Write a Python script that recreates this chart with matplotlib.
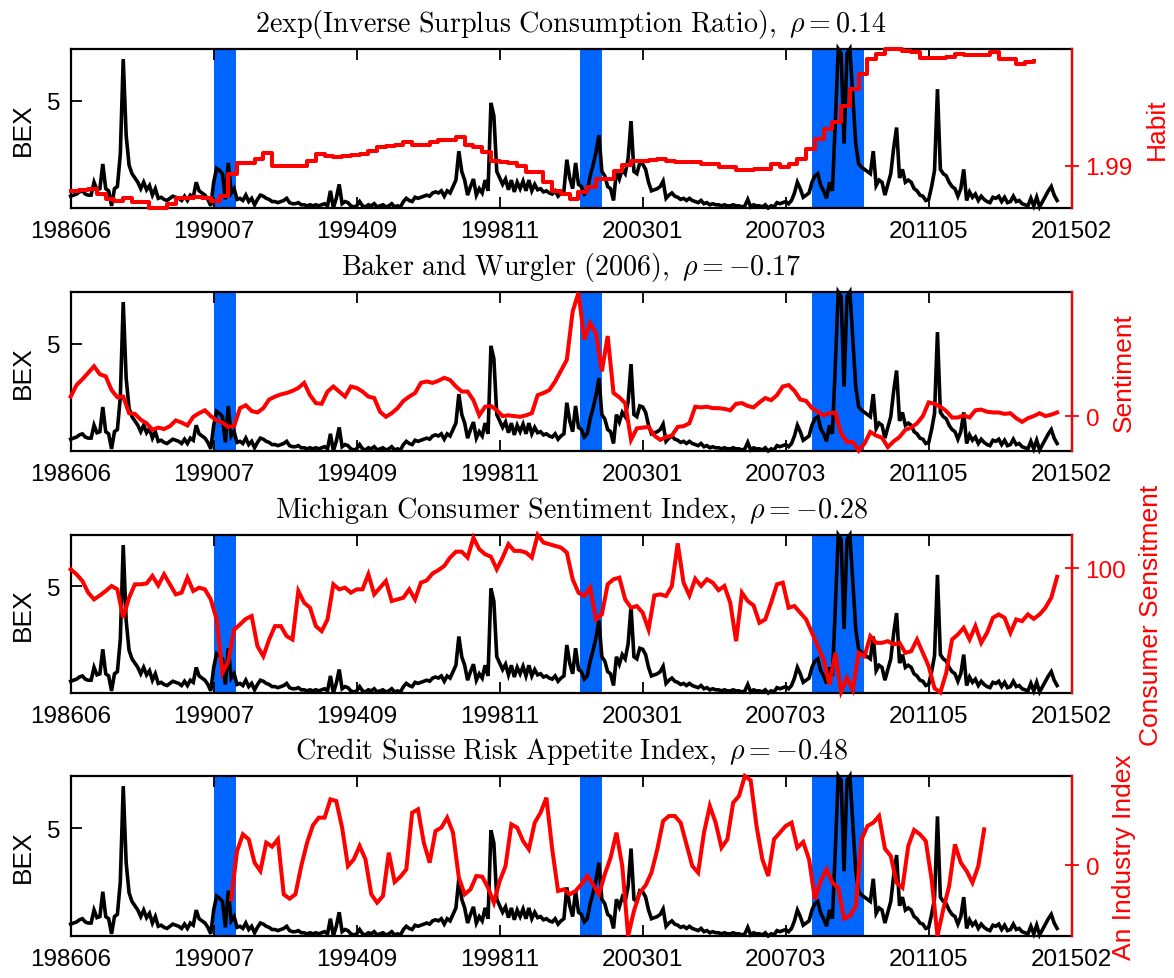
import numpy as np
import matplotlib.pyplot as plt

plt.rcParams['font.family'] = ['Liberation Sans', 'DejaVu Sans']
plt.rcParams['mathtext.fontset'] = 'cm'

# BEX, monthly index 0..338 (same series in every panel)
bex = [
    0.55, 0.6, 0.65, 0.75, 0.8, 0.65, 0.6, 0.6, 1.2, 0.85,
    0.9, 2.05, 0.9, 0.8, 0.1, 0.9, 1.0, 2.5, 6.94, 3.4,
    2.0, 1.6, 1.4, 1.2, 0.9, 1.2, 0.85, 1.05, 0.6, 0.9,
    0.45, 0.5, 0.4, 0.35, 0.45, 0.55, 0.5, 0.45, 0.35, 0.55,
    0.35, 0.6, 0.5, 1.2, 0.8, 0.7, 0.6, 0.4, 0.1, 1.2,
    1.85, 1.75, 1.6, 0.4, 2.1, 0.7, 0.9, 0.4, 0.45, 0.35,
    0.6, 0.3, 0.45, 0.15, 0.4, 0.6, 0.55, 0.45, 0.4, 0.3,
    0.3, 0.25, 0.3, 0.35, 0.45, 0.25, 0.2, 0.2, 0.25, 0.15,
    0.15, 0.1, 0.15, 0.1, 0.15, 0.1, 0.15, 0.2, 0.1, 0.8,
    0.0, 0.45, 1.1, 0.2, 0.3, 0.25, 0.1, 0.05, 0.1, 0.3,
    0.1, 0.05, 0.15, 0.1, 0.2, 0.05, 0.1, 0.15, 0.05, 0.1,
    0.2, 0.05, 0.1, 0.05, 0.3, 0.45, 0.35, 0.3, 0.5, 0.45,
    0.5, 0.55, 0.6, 0.55, 0.7, 0.75, 0.7, 0.8, 0.55, 0.8,
    0.7, 1.0, 1.3, 2.65, 1.7, 1.3, 0.6, 1.0, 1.35, 0.6,
    0.9, 0.7, 1.3, 0.8, 4.9, 4.3, 1.7, 1.4, 1.1, 1.35,
    0.85, 1.3, 0.75, 1.2, 0.9, 1.25, 0.8, 1.3, 0.8, 1.1,
    0.85, 0.9, 0.75, 0.8, 0.7, 0.65, 0.8, 0.55, 0.7, 0.8,
    2.25, 1.4, 0.9, 2.1, 1.1, 1.0, 0.65, 0.8, 1.5, 2.0,
    2.6, 3.4, 1.7, 1.5, 1.0, 0.9, 0.35, 1.7, 1.35, 1.8,
    1.6, 2.3, 4.05, 1.7, 1.6, 2.1, 2.05, 1.8, 1.2, 0.8,
    0.85, 0.9, 1.0, 1.25, 0.45, 0.6, 0.7, 0.55, 0.5, 0.4,
    0.45, 0.35, 0.45, 0.35, 0.3, 0.25, 0.35, 0.2, 0.25, 0.15,
    0.2, 0.15, 0.15, 0.1, 0.15, 0.1, 0.1, 0.15, 0.1, 0.1,
    0.05, 0.1, 0.4, 0.05, 0.15, 0.1, 0.1, 0.05, 0.15, 0.0,
    0.1, 0.05, 0.25, 0.2, 0.25, 0.3, 0.2, 0.35, 0.7, 1.2,
    0.9, 0.5, 0.6, 0.7, 1.2, 1.5, 1.6, 1.05, 0.8, 0.45,
    1.2, 0.8, 4.0, 7.41, 7.2, 3.0, 7.2, 7.41, 5.2, 3.0,
    2.05, 1.9, 1.8, 1.7, 1.6, 2.65, 1.05, 1.3, 1.2, 0.6,
    1.1, 1.6, 2.8, 3.75, 1.4, 1.8, 1.2, 1.3, 1.2, 0.9,
    0.8, 0.6, 0.55, 0.35, 0.4, 1.0, 1.75, 5.54, 1.8, 1.6,
    1.5, 1.2, 1.0, 0.9, 0.55, 0.9, 1.8, 0.35, 0.75, 0.5,
    0.65, 0.35, 0.55, 0.4, 0.3, 0.25, 0.5, 0.45, 0.55, 0.3,
    0.5, 0.25, 0.3, 0.55, 0.3, 0.35, 0.2, 0.15, 0.1, 0.45,
    0.1, 0.5, 0.05, 0.3, 0.55, 0.8, 1.0, 0.6, 0.35,
]

# habit, quarterly (every 3rd month index from 0)
habit = [
    1.98615, 1.98631, 1.98641, 1.98564, 1.98487, 1.98462, 1.98497, 1.98436, 1.98436, 1.98343,
    1.98343, 1.98410, 1.98497, 1.98497, 1.98513, 1.98497, 1.98462, 1.98538, 1.98872, 1.99041,
    1.99041, 1.99103, 1.99195, 1.99000, 1.99000, 1.99000, 1.98990, 1.99077, 1.99179, 1.99154,
    1.99128, 1.99144, 1.99164, 1.99179, 1.99231, 1.99282, 1.99308, 1.99318, 1.99359, 1.99318,
    1.99318, 1.99359, 1.99395, 1.99395, 1.99441, 1.99318, 1.99282, 1.99205, 1.99077, 1.99051,
    1.99041, 1.99000, 1.98897, 1.98897, 1.98744, 1.98615, 1.98564, 1.98487, 1.98590, 1.98667,
    1.98795, 1.98795, 1.98923, 1.99015, 1.99077, 1.99077, 1.99092, 1.99103, 1.99067, 1.99062,
    1.99051, 1.99051, 1.99026, 1.99026, 1.98974, 1.98974, 1.98938, 1.98938, 1.98949, 1.98949,
    1.99026, 1.98974, 1.99026, 1.99103, 1.99256, 1.99410, 1.99564, 1.99667, 1.99923, 2.00179,
    2.00410, 2.00641, 2.00718, 2.00795, 2.00795, 2.00769, 2.00744, 2.00651, 2.00651, 2.00651,
    2.00667, 2.00718, 2.00703, 2.00703, 2.00703, 2.00744, 2.00641, 2.00641, 2.00564, 2.00590,
    2.00605,
]

# Baker-Wurgler sentiment, every 2nd month index from 0
bw_sentiment = [
    0.27, 0.43, 0.51, 0.60, 0.69, 0.58, 0.55, 0.36, 0.26, 0.27,
    0.04, 0.03, -0.05, -0.10, -0.19, -0.16, -0.18, -0.14, -0.06, -0.09,
    -0.13, -0.01, 0.04, 0.08, 0.00, -0.06, -0.09, -0.15, -0.14, 0.11,
    0.15, 0.07, 0.05, 0.11, 0.23, 0.27, 0.30, 0.32, 0.35, 0.39,
    0.46, 0.29, 0.18, 0.17, 0.34, 0.41, 0.34, 0.27, 0.41, 0.39,
    0.34, 0.27, 0.25, 0.06, -0.01, 0.04, 0.11, 0.21, 0.27, 0.32,
    0.46, 0.48, 0.46, 0.49, 0.53, 0.50, 0.41, 0.34, 0.34, 0.22,
    0.01, 0.13, 0.14, 0.08, 0.00, 0.01, 0.00, -0.01, 0.01, 0.04,
    0.29, 0.32, 0.36, 0.48, 0.63, 0.78, 1.45, 1.71, 1.06, 1.29,
    1.15, 0.62, 1.11, 0.32, 0.26, 0.18, -0.33, -0.17, -0.16, -0.15,
    -0.27, -0.33, -0.29, -0.27, -0.15, -0.14, -0.10, 0.13, 0.12, 0.13,
    0.11, 0.11, 0.10, 0.08, 0.17, 0.18, 0.14, 0.12, 0.19, 0.25,
    0.22, 0.29, 0.41, 0.43, 0.35, 0.23, 0.21, 0.11, 0.06, 0.01,
    0.04, 0.05, -0.24, -0.36, -0.36, -0.48, -0.38, -0.22, -0.27, -0.30,
    -0.43, -0.35, -0.29, -0.19, -0.16, -0.10, 0.00, 0.19, 0.17, 0.13,
    0.07, -0.02, -0.02, 0.01, -0.02, 0.08, 0.09, 0.06, 0.05, 0.05,
    0.03, 0.04, -0.03, -0.08, -0.03, 0.00, 0.04, 0.00, 0.02, 0.05,
]

# Michigan consumer sentiment, every 2nd month index from 0
michigan = [
    99.7, 97.9, 95.5, 91.3, 88.9, 90.3, 91.9, 93.7, 92.5, 82.3,
    89.5, 94.3, 94.3, 94.6, 97.3, 93.9, 97.9, 94.3, 90.7, 91.3,
    96.7, 91.9, 93.1, 92.5, 88.9, 81.7, 62.5, 66.7, 78.0, 79.9,
    81.9, 82.9, 72.1, 68.5, 74.5, 79.3, 79.3, 75.7, 74.5, 91.9,
    87.7, 85.9, 79.3, 77.5, 81.7, 94.3, 92.5, 93.1, 91.3, 92.5,
    92.5, 97.9, 90.7, 93.1, 95.5, 88.3, 88.9, 89.5, 92.5, 88.9,
    94.9, 95.7, 98.2, 99.4, 100.9, 103.9, 106.0, 106.0, 103.9, 111.0,
    106.9, 105.1, 104.2, 99.7, 103.9, 108.7, 106.3, 106.3, 105.7, 103.9,
    112.0, 109.3, 108.7, 108.1, 107.5, 105.7, 96.1, 91.3, 90.1, 93.1,
    81.7, 83.5, 94.3, 96.1, 96.7, 88.9, 85.9, 86.5, 84.1, 78.1,
    90.3, 90.7, 90.1, 93.7, 109.0, 94.9, 90.3, 96.3, 93.7, 96.1,
    94.9, 92.2, 93.7, 87.7, 73.9, 91.3, 88.3, 86.7, 80.5, 81.7,
    87.7, 94.3, 94.9, 85.9, 86.5, 84.1, 81.7, 76.9, 72.1, 67.3,
    58.3, 69.7, 55.8, 60.7, 56.5, 69.7, 68.5, 75.7, 73.3, 73.3,
    73.9, 72.7, 73.3, 69.7, 70.3, 74.5, 69.7, 64.9, 57.0, 55.5,
    62.5, 74.5, 76.3, 78.7, 74.5, 79.3, 73.3, 76.9, 82.3, 83.5,
    82.3, 76.9, 81.7, 81.1, 83.5, 81.9, 83.5, 85.9, 89.5, 97.0,
]

# Credit Suisse risk appetite, every 2nd month index from 55
credit_suisse = [
    -2.04, 0.86, 1.86, 1.56, 0.16, -0.34, 1.36, 1.12, 1.56, -1.74,
    -2.00, -1.74, -0.04, 1.36, 2.40, 2.86, 2.86, 3.96, 3.86, 2.26,
    -0.04, 0.36, 1.16, 0.36, -1.74, -2.24, -1.84, 0.76, -1.00, -0.68,
    -0.24, 3.16, 3.36, 1.36, 0.16, 2.06, 2.26, 2.86, 1.96, -0.74,
    -1.74, -1.44, -0.64, -0.68, -1.34, -2.24, -0.94, -0.04, 2.46, 2.26,
    1.46, 0.96, 2.56, 3.16, 4.06, 0.96, -1.54, -1.44, -1.74, -1.54,
    -1.14, -0.64, -1.14, -1.74, -0.54, 0.46, 1.96, -0.04, -4.24, -2.74,
    -1.64, -1.20, -0.44, 0.96, 2.66, 2.96, 2.96, 2.56, 1.26, -0.04,
    -0.44, 1.96, 3.56, 2.56, 1.06, 1.56, 3.76, 4.16, 5.36, 5.10,
    2.36, 0.36, -0.64, 1.56, 1.96, 2.36, 2.56, 1.06, 1.40, 0.36,
    -2.04, -0.94, -0.24, -1.04, -1.34, -3.20, -3.04, -2.44, 1.56, 2.36,
    2.56, 2.96, 1.00, 0.56, -1.04, -1.34, 1.16, 2.12, 1.86, 1.46,
    -0.84, -4.24, -2.64, -1.24, 1.26, 0.16, -0.34, -1.04, -0.04, 2.16,
]

tick_labels = ['198606', '199007', '199409', '199811', '200301', '200703', '201105', '201502']
tick_pos = [0, 49, 98, 147, 196, 245, 294, 343]
recession_start = [49, 174.5, 254]
recession_end = [56.7, 182, 272]

panels = [
    (r'$\mathrm{2exp(Inverse\ Surplus\ Consumption\ Ratio),}\ \rho = 0.14$',
     np.arange(len(habit)) * 3, habit, 'Habit', (1.98349, 2.00795), [1.99], ['1.99'], True),
    (r'$\mathrm{Baker\ and\ Wurgler\ (2006),}\ \rho = -0.17$',
     np.arange(len(bw_sentiment)) * 2, bw_sentiment, 'Sentiment', (-0.484, 1.72), [0], ['0'], False),
    (r'$\mathrm{Michigan\ Consumer\ Sentiment\ Index,}\ \rho = -0.28$',
     np.arange(len(michigan)) * 2, michigan, 'Consumer Sensitment', (55.3, 112.0), [100], ['100'], False),
    (r'$\mathrm{Credit\ Suisse\ Risk\ Appetite\ Index,}\ \rho = -0.48$',
     55 + np.arange(len(credit_suisse)) * 2, credit_suisse, 'An Industry Index', (-4.24, 5.36), [0], ['0'], False),
]

W, H = 1174, 979
fig = plt.figure(figsize=(W / 100, H / 100), dpi=100)

# axes boxes in pixels: (top, bottom)
boxes = [(50, 209), (293, 452), (536, 694), (777, 937)]
left_px, right_px = 70.7, 1071.7

x_bex = np.arange(len(bex))

for (title, xr, yr, rlabel, rlim, rticks, rticklabels, steps), (top, bot) in zip(panels, boxes):
    ax = fig.add_axes([left_px / W, 1 - bot / H, (right_px - left_px) / W, (bot - top) / H])
    for s, e in zip(recession_start, recession_end):
        ax.axvspan(s, e, color='#0066ff', lw=0, zorder=0)
    ax.plot(x_bex, bex, color='black', lw=2.6, solid_joinstyle='miter', clip_on=False, zorder=2)
    ax.set_xlim(0, 343)
    ax.set_ylim(0, 7.41)
    ax.set_yticks([5])
    ax.set_yticklabels(['5'])
    ax.set_xticks(tick_pos)
    ax.set_xticklabels(tick_labels)
    ax.yaxis.set_ticks_position('both')
    ax.xaxis.set_ticks_position('both')
    ax.tick_params(direction='in', length=8, width=1.3, labelsize=17.5)
    ax.tick_params(axis='x', pad=9)
    ax.tick_params(axis='y', pad=7)
    ax.set_ylabel('BEX', fontsize=19, labelpad=9)
    for sp in ax.spines.values():
        sp.set_linewidth(1.6)
    ax.set_title(title, fontsize=20.2, pad=13)

    ax2 = ax.twinx()
    if steps:
        ax2.plot(xr, yr, color='red', lw=2.9, drawstyle='steps-post', clip_on=False)
    else:
        ax2.plot(xr, yr, color='red', lw=2.9, solid_joinstyle='miter', clip_on=False)
    ax2.set_ylim(*rlim)
    ax2.set_yticks(rticks)
    ax2.set_yticklabels(rticklabels)
    ax2.tick_params(axis='y', colors='red', direction='inout', length=10, width=1.3,
                    labelsize=17.5, pad=5)
    for k in ['left', 'top', 'bottom']:
        ax2.spines[k].set_visible(False)
    ax2.spines['right'].set_color('red')
    ax2.spines['right'].set_linewidth(1.6)
    ax2.set_ylabel(rlabel, color='red', fontsize=19, labelpad=9)

fig.savefig('out.png', dpi=100)
